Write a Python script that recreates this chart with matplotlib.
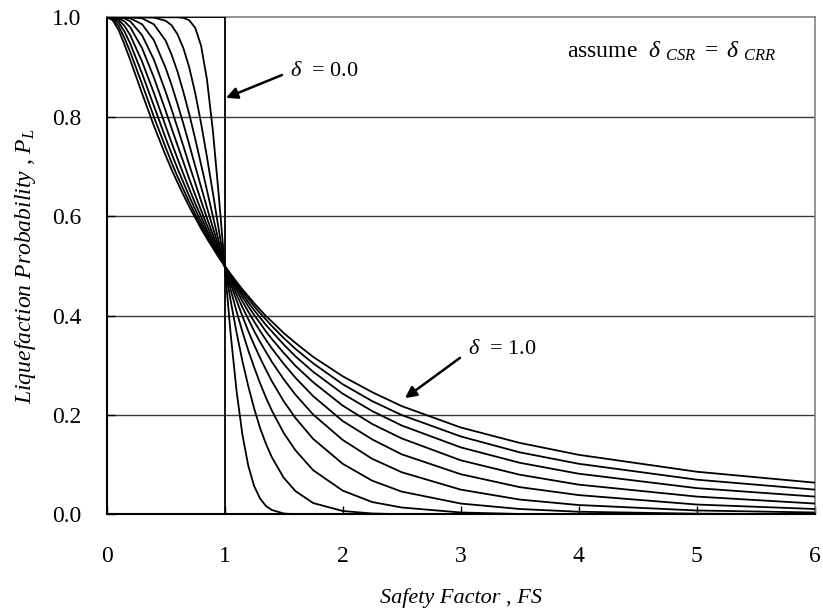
import matplotlib
matplotlib.use('Agg')
import matplotlib.pyplot as plt

fs = [0, 0.05, 0.1, 0.15, 0.2, 0.3, 0.4, 0.5, 0.55, 0.6, 0.65, 0.7, 0.75, 0.8, 0.85, 0.9, 0.95, 1.0,
      1.05, 1.1, 1.15, 1.2, 1.25, 1.3, 1.35, 1.4, 1.5, 1.6, 1.75, 2.0, 2.25, 2.5, 3.0, 3.5, 4.0, 5.0, 6.0]

# delta = 0.0 is a step at FS = 1
fs_d00 = [0, 1, 1, 6]
pl_d00 = [1, 1, 0, 0]

pl_d01 = [1, 1, 1, 1, 1, 1, 1, 1, 1, 1, 0.999, 0.994, 0.979, 0.943, 0.875, 0.772, 0.642, 0.5,
          0.365, 0.250, 0.161, 0.098, 0.057, 0.032, 0.017, 0.009, 0.002, 0.0004, 0, 0, 0, 0, 0, 0, 0, 0, 0]
pl_d02 = [1, 1, 1, 1, 1, 1, 0.9995, 0.993, 0.984, 0.966, 0.938, 0.899, 0.848, 0.787, 0.719, 0.647, 0.573, 0.5,
          0.431, 0.367, 0.309, 0.258, 0.213, 0.174, 0.142, 0.115, 0.074, 0.047, 0.023, 0.007, 0.002, 0.0005, 0, 0, 0, 0, 0]
pl_d03 = [1, 1, 1, 1, 1, 0.998, 0.986, 0.953, 0.925, 0.891, 0.850, 0.805, 0.756, 0.704, 0.652, 0.600, 0.549, 0.5,
          0.453, 0.409, 0.368, 0.330, 0.296, 0.264, 0.235, 0.209, 0.164, 0.129, 0.089, 0.048, 0.025, 0.014, 0.004, 0.001, 0.0004, 0.0001, 0]
pl_d04 = [1, 1, 1, 1, 0.998, 0.986, 0.954, 0.898, 0.864, 0.826, 0.786, 0.744, 0.701, 0.659, 0.617, 0.577, 0.538, 0.5,
          0.464, 0.431, 0.399, 0.369, 0.341, 0.315, 0.291, 0.268, 0.228, 0.194, 0.152, 0.102, 0.068, 0.046, 0.022, 0.011, 0.0055, 0.0016, 0.0005]
pl_d05 = [1, 1, 0.9997, 0.998, 0.992, 0.964, 0.915, 0.850, 0.815, 0.778, 0.741, 0.703, 0.667, 0.631, 0.596, 0.563, 0.531, 0.5,
          0.471, 0.443, 0.417, 0.393, 0.369, 0.347, 0.327, 0.307, 0.272, 0.241, 0.201, 0.150, 0.112, 0.085, 0.050, 0.030, 0.019, 0.008, 0.004]
pl_d06 = [1, 0.9999, 0.998, 0.992, 0.980, 0.938, 0.879, 0.812, 0.777, 0.743, 0.709, 0.675, 0.643, 0.612, 0.582, 0.554, 0.526, 0.5,
          0.475, 0.452, 0.429, 0.408, 0.388, 0.369, 0.351, 0.334, 0.303, 0.275, 0.238, 0.188, 0.151, 0.121, 0.081, 0.055, 0.039, 0.020, 0.011]
pl_d07 = [1, 0.9996, 0.995, 0.983, 0.964, 0.911, 0.848, 0.781, 0.748, 0.716, 0.685, 0.655, 0.626, 0.599, 0.572, 0.547, 0.523, 0.5,
          0.478, 0.458, 0.438, 0.419, 0.401, 0.385, 0.368, 0.353, 0.325, 0.299, 0.266, 0.219, 0.182, 0.153, 0.109, 0.080, 0.060, 0.036, 0.022]
pl_d08 = [1, 0.999, 0.990, 0.972, 0.947, 0.887, 0.822, 0.757, 0.726, 0.696, 0.668, 0.640, 0.614, 0.589, 0.565, 0.542, 0.521, 0.5,
          0.480, 0.462, 0.444, 0.427, 0.411, 0.396, 0.381, 0.368, 0.342, 0.318, 0.287, 0.243, 0.208, 0.179, 0.135, 0.104, 0.082, 0.053, 0.036]
pl_d09 = [1, 0.997, 0.983, 0.959, 0.930, 0.866, 0.800, 0.738, 0.708, 0.680, 0.654, 0.628, 0.604, 0.581, 0.559, 0.539, 0.519, 0.5,
          0.482, 0.465, 0.449, 0.434, 0.419, 0.405, 0.392, 0.379, 0.355, 0.333, 0.304, 0.262, 0.228, 0.200, 0.157, 0.125, 0.102, 0.070, 0.050]
pl_d10 = [1, 0.9945, 0.975, 0.946, 0.914, 0.847, 0.782, 0.722, 0.694, 0.668, 0.643, 0.619, 0.597, 0.575, 0.555, 0.536, 0.517, 0.5,
          0.484, 0.468, 0.453, 0.439, 0.425, 0.412, 0.399, 0.388, 0.365, 0.345, 0.317, 0.278, 0.246, 0.218, 0.175, 0.144, 0.120, 0.086, 0.064]

curves = [pl_d01, pl_d02, pl_d03, pl_d04, pl_d05, pl_d06, pl_d07, pl_d08, pl_d09, pl_d10]

xticks = [0, 1, 2, 3, 4, 5, 6]
yticks = [0.0, 0.2, 0.4, 0.6, 0.8, 1.0]

plt.rcParams['font.family'] = 'serif'
plt.rcParams['font.serif'] = ['Liberation Serif']
plt.rcParams['mathtext.fontset'] = 'custom'
plt.rcParams['mathtext.rm'] = 'Liberation Serif'
plt.rcParams['mathtext.it'] = 'Liberation Serif:italic'

fig = plt.figure(figsize=(8.23, 6.14), dpi=100)
ax = fig.add_axes([0.1296, 0.1621, 0.8603, 0.8097])

for yg in [0.2, 0.4, 0.6, 0.8]:
    ax.axhline(yg, color='#3a3a3a', lw=1.0, zorder=1)

ax.plot(fs_d00, pl_d00, color='black', lw=1.3, zorder=3)
for pl in curves:
    ax.plot(fs, pl, color='black', lw=1.3, zorder=3, solid_joinstyle='round')

ax.set_xlim(0, 6)
ax.set_ylim(0, 1)
ax.set_xticks(xticks)
ax.set_yticks(yticks)
ax.set_xticklabels([str(t) for t in xticks])
ax.set_yticklabels(['%.1f' % t for t in yticks])
ax.tick_params(axis='x', direction='in', length=6, width=1, pad=23, labelsize=17)
ax.tick_params(axis='y', direction='in', length=6, width=1, pad=18, labelsize=17)

for s in ['left', 'bottom']:
    ax.spines[s].set_linewidth(1.5)
    ax.spines[s].set_color('black')
for s in ['top', 'right']:
    ax.spines[s].set_linewidth(1.2)
    ax.spines[s].set_color('#808080')

ax.set_xlabel('Safety Factor , FS', fontsize=16, style='italic')
ax.xaxis.set_label_coords(0.5, -0.148)
ax.set_ylabel(r'Liquefaction Probability , $P_L$', fontsize=17, style='italic')
ax.yaxis.set_label_coords(-0.097, 0.5)

# annotations
ax.annotate('', xy=(1.011, 0.838), xytext=(1.486, 0.884),
            arrowprops=dict(arrowstyle='-|>', color='black', lw=1.8, mutation_scale=17,
                            shrinkA=0, shrinkB=0))
ax.text(1.555, 0.892, r'$\delta$  = 0.0', fontsize=16, va='center', ha='left')

ax.annotate('', xy=(2.528, 0.234), xytext=(2.994, 0.315),
            arrowprops=dict(arrowstyle='-|>', color='black', lw=1.8, mutation_scale=17,
                            shrinkA=0, shrinkB=0))
ax.text(3.06, 0.331, r'$\delta$  = 1.0', fontsize=16, va='center', ha='left')

ax.text(3.905, 0.932, r'assume  $\delta\ {}_{CSR}\ =\ \delta\ {}_{CRR}$',
        fontsize=17, va='center', ha='left')

fig.savefig('out.png', dpi=100)
